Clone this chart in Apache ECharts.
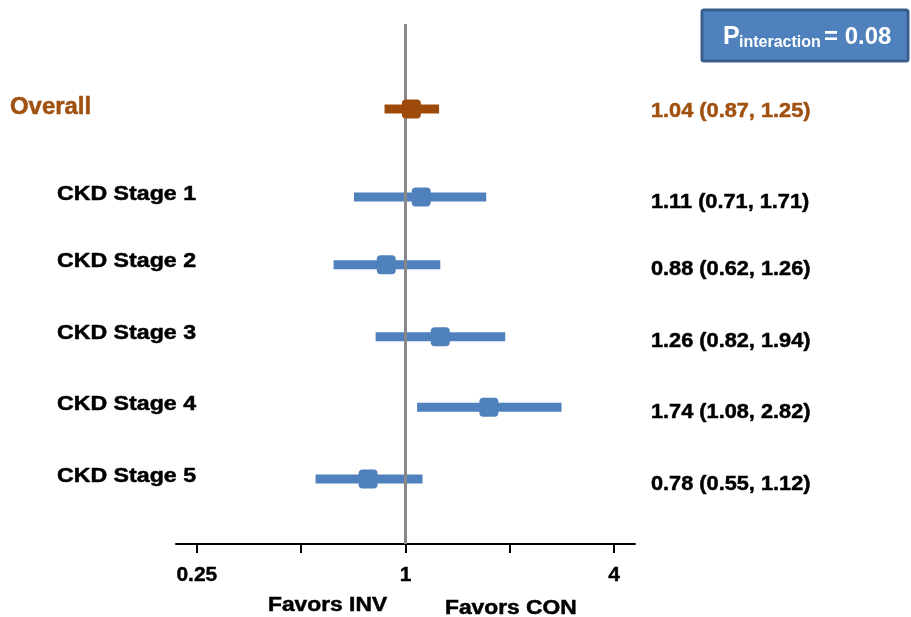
<!DOCTYPE html>
<html>
<head>
<meta charset="utf-8">
<script src="https://cdn.jsdelivr.net/npm/echarts@6/dist/echarts.min.js"></script>
<style>
html,body{margin:0;padding:0;background:#fff;}
#chart{width:911px;height:617px;}
</style>
</head>
<body>
<div id="chart"></div>
<script>
const categories = ['Overall', 'CKD Stage 1', 'CKD Stage 2', 'CKD Stage 3', 'CKD Stage 4', 'CKD Stage 5'];
const estimates = [1.04, 1.11, 0.88, 1.26, 1.74, 0.78];
const lower = [0.87, 0.71, 0.62, 0.82, 1.08, 0.55];
const upper = [1.25, 1.71, 1.26, 1.94, 2.82, 1.12];
const rowPos = [0, 1.25, 2.21, 3.23, 4.23, 5.25];
const tickValues = [0.25, 0.5, 1, 2, 4];
const tickLabels = ['0.25', '', '1', '', '4'];
const pInteraction = '0.08';

const BLUE = '#4f81bd';
const BROWN = '#9e4a0a';
const FONT = '"Liberation Sans", Arial, sans-serif';

const chart = echarts.init(document.getElementById('chart'), null, {renderer: 'canvas'});

const labelValues = tickValues.filter((v, i) => tickLabels[i] !== '').map(v => Math.log2(v));

function fmtCI(i) {
  return estimates[i].toFixed(2) + ' (' + lower[i].toFixed(2) + ', ' + upper[i].toFixed(2) + ')';
}

const option = {
  animation: false,
  backgroundColor: '#fff',
  grid: {left: 176, right: 276, top: 24, bottom: 73, containLabel: false},
  xAxis: {
    type: 'value',
    min: -2.2,
    max: 2.2,
    splitLine: {show: false},
    axisLine: {show: true, onZero: false, lineStyle: {color: '#000', width: 2}},
    axisTick: {
      show: true,
      customValues: tickValues.map(v => Math.log2(v)),
      length: 9,
      lineStyle: {color: '#000', width: 2}
    },
    axisLabel: {
      customValues: labelValues,
      margin: 21,
      fontFamily: FONT,
      fontWeight: 'bold',
      fontSize: 21,
      color: '#000',
      textBorderColor: '#000',
      textBorderWidth: 0.4,
      formatter: function (v) {
        for (let i = 0; i < tickValues.length; i++) {
          if (Math.abs(Math.log2(tickValues[i]) - v) < 1e-6) return tickLabels[i];
        }
        return '';
      }
    }
  },
  yAxis: {
    type: 'value',
    inverse: true,
    min: -1.206,
    max: 6.172,
    show: false
  },
  series: [
    {
      type: 'custom',
      name: 'ci',
      z: 2,
      clip: false,
      data: categories.map((c, i) => [Math.log2(lower[i]), Math.log2(upper[i]), rowPos[i], i]),
      renderItem: function (params, api) {
        const i = api.value(3);
        const a = api.coord([api.value(0), api.value(2)]);
        const b = api.coord([api.value(1), api.value(2)]);
        return {
          type: 'rect',
          shape: {x: a[0], y: a[1] - 4.5, width: b[0] - a[0], height: 9},
          style: {fill: i === 0 ? BROWN : BLUE}
        };
      }
    },
    {
      type: 'custom',
      name: 'ref',
      z: 3,
      clip: false,
      data: [[0, rowPos[0]]],
      renderItem: function (params, api) {
        const p = api.coord([api.value(0), api.value(1)]);
        const cs = params.coordSys;
        return {
          type: 'line',
          shape: {x1: p[0], y1: cs.y, x2: p[0], y2: cs.y + cs.height},
          style: {stroke: '#888888', lineWidth: 3}
        };
      }
    },
    {
      type: 'custom',
      name: 'est',
      z: 4,
      clip: false,
      data: categories.map((c, i) => [Math.log2(estimates[i]), rowPos[i], i]),
      renderItem: function (params, api) {
        const i = api.value(2);
        const p = api.coord([api.value(0), api.value(1)]);
        const overall = i === 0;
        const col = overall ? BROWN : BLUE;
        const txtCol = overall ? '#a0500f' : '#000';
        return {
          type: 'group',
          children: [
            {
              type: 'rect',
              shape: {x: p[0] - 9.5, y: p[1] - 9.5, width: 19, height: 19, r: 4},
              style: {fill: col}
            },
            {
              type: 'text',
              x: overall ? 10 : 57,
              y: overall ? p[1] - 1 : p[1] - 3,
              scaleX: overall ? 1.04 : 1.13,
              style: {
                text: categories[i],
                font: 'bold ' + (overall ? 23 : 20.5) + 'px ' + FONT,
                fill: txtCol,
                stroke: txtCol,
                lineWidth: 0.5,
                align: 'left',
                verticalAlign: 'middle'
              }
            },
            {
              type: 'text',
              x: 651,
              y: overall ? p[1] + 2 : p[1] + 5,
              scaleX: 1.06,
              style: {
                text: fmtCI(i),
                font: 'bold 20.5px ' + FONT,
                fill: txtCol,
                stroke: txtCol,
                lineWidth: 0.5,
                align: 'left',
                verticalAlign: 'middle'
              }
            }
          ]
        };
      }
    }
  ],
  graphic: [
    {
      type: 'rect',
      shape: {x: 702, y: 10, width: 206, height: 51, r: 2},
      style: {fill: BLUE, stroke: '#3b5f8c', lineWidth: 3},
      z: 10
    },
    {
      type: 'text', x: 723, y: 37, z: 11,
      style: {text: 'P', font: 'bold 25px ' + FONT, fill: '#fff', align: 'left', verticalAlign: 'middle'}
    },
    {
      type: 'text', x: 739, y: 43, z: 11,
      style: {text: 'interaction', font: 'bold 16px ' + FONT, fill: '#fff', align: 'left', verticalAlign: 'middle'}
    },
    {
      type: 'text', x: 824, y: 37, z: 11,
      style: {text: '= ' + pInteraction, font: 'bold 24px ' + FONT, fill: '#fff', align: 'left', verticalAlign: 'middle'}
    },
    {
      type: 'text', x: 268, y: 605, z: 11, scaleX: 1.14,
      style: {text: 'Favors INV', font: 'bold 20px ' + FONT, fill: '#000', stroke: '#000', lineWidth: 0.5, align: 'left', verticalAlign: 'middle'}
    },
    {
      type: 'text', x: 445, y: 608, z: 11, scaleX: 1.14,
      style: {text: 'Favors CON', font: 'bold 20px ' + FONT, fill: '#000', stroke: '#000', lineWidth: 0.5, align: 'left', verticalAlign: 'middle'}
    }
  ]
};

chart.setOption(option);
</script>
</body>
</html>
